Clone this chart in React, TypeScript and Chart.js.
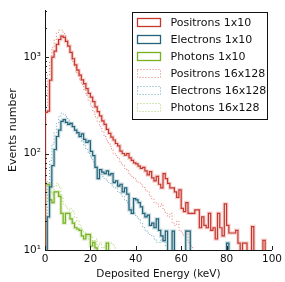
import React, { useEffect, useRef } from 'react';
import { Chart, registerables } from 'chart.js';
Chart.register(...registerables);

// Histogram binning (keV)
const X_MIN = 0;
const X_MAX = 100;
const BIN_WIDTH = 1;
const FLOOR = 1; // empty bins (below the y-axis minimum)

const Y_MIN = 10;
const Y_MAX = 3050;
const Y_MAJOR_TICKS = [10, 100, 1000];
const Y_TICK_LABELS = ['10¹', '10²', '10³'];
const X_TICKS = [0, 20, 40, 60, 80, 100];

const LABELS = [
  'Positrons 1x10',
  'Electrons 1x10',
  'Photons 1x10',
  'Positrons 16x128',
  'Electrons 16x128',
  'Photons 16x128',
];

const positrons1x10 = [
  266, 275, 575, 1000, 1150, 1350, 1520, 1650, 1600, 1450,
  1300, 1120, 960, 830, 730, 650, 580, 530, 470, 420,
  385, 345, 305, 272, 245, 218, 200, 178, 162, 148,
  138, 127, 120, 106, 100, 96, 100, 90, 85, 80,
  78, 74, 70, 72, 66, 60, 65, 56, 52, 58,
  48, 44, 62, 55, 49, 44, 44, 40, 35, 42,
  27, 25, 31, 24, 24, 24, 26, 26, 17, 22,
  18, 17, 24, 16, 17, 13, 24, 17, 14, 30,
  18, 15, 15, 15, 16, 11.8, 1, 11.8, 11.8, 1,
  1, 17.5, 1, 1, 1, 1, 12.6, 1, 1, 1,
];

const electrons1x10 = [
  1, 22, 45, 75, 110, 150, 175, 215, 225, 210,
  200, 205, 190, 175, 165, 150, 160, 140, 130, 135,
  105, 95, 72, 55, 68, 64, 62, 66, 60, 62,
  50, 52, 46, 48, 40, 44, 38, 26, 24, 34,
  33, 31, 28, 24, 22, 23, 18, 19, 17, 21,
  16, 14, 12.5, 15.7, 1, 1, 15.7, 1, 1, 1,
  1, 1, 15.7, 15.7, 1, 1, 1, 1, 1, 1,
  1, 1, 1, 1, 1, 1, 1, 1, 1, 1,
  11.8, 1, 1, 1, 1, 1, 1, 1, 1, 1,
  1, 1, 1, 1, 1, 1, 1, 1, 1, 1,
];

const photons1x10 = [
  48, 48, 33, 31, 40, 40, 36, 24, 19, 24,
  24, 21, 19, 17, 16.5, 16, 14, 13, 14.5, 14.5,
  11, 12, 10.5, 1, 1, 1, 1, 11.8, 1, 1,
  1, 1, 1, 1, 1, 1, 1, 1, 1, 1,
  1, 1, 1, 1, 1, 1, 1, 1, 1, 1,
  1, 1, 1, 1, 1, 1, 1, 1, 1, 1,
  1, 1, 1, 1, 1, 1, 1, 1, 1, 1,
  1, 1, 1, 1, 1, 1, 1, 1, 1, 1,
  1, 1, 1, 1, 1, 1, 1, 1, 1, 1,
  1, 1, 1, 1, 1, 1, 1, 1, 1, 1,
];

const positrons16x128 = [
  300, 650, 900, 1250, 1500, 1800, 1900, 1900, 1750, 1500,
  1300, 1100, 900, 780, 680, 590, 520, 460, 400, 350,
  310, 270, 240, 215, 190, 170, 150, 135, 125, 112,
  100, 95, 88, 80, 76, 70, 66, 60, 58, 55,
  52, 50, 48, 45, 42, 40, 36, 34, 31, 30,
  28, 30, 26, 24, 22, 24, 19, 18, 20, 16,
  15, 14, 16, 12, 11, 1, 1, 1, 1, 1,
  1, 1, 1, 1, 1, 1, 1, 1, 1, 1,
  1, 1, 1, 1, 1, 1, 1, 1, 1, 1,
  1, 1, 1, 1, 1, 1, 1, 1, 1, 1,
];

const electrons16x128 = [
  20, 48, 85, 125, 165, 205, 240, 262, 255, 240,
  222, 208, 192, 176, 160, 146, 132, 120, 110, 100,
  90, 82, 75, 68, 62, 58, 55, 52, 50, 47,
  45, 43, 40, 38, 36, 33, 31, 28, 26, 24,
  22, 21, 19, 17, 16, 15, 14.5, 14, 13, 12,
  12, 13, 12, 11, 1, 1, 1, 1, 1, 1,
  1, 1, 1, 1, 1, 1, 1, 1, 1, 1,
  1, 1, 1, 1, 1, 1, 1, 1, 1, 1,
  1, 1, 1, 1, 1, 1, 1, 1, 1, 1,
  1, 1, 1, 1, 1, 1, 1, 1, 1, 1,
];

const photons16x128 = [
  52, 46, 40, 38, 46, 49, 45, 35, 30, 28,
  26, 27, 25, 22, 20, 18, 16, 15, 14, 13,
  14, 12, 13, 11, 12, 10.5, 11, 1, 11.8, 11.8,
  11, 1, 1, 1, 1, 1, 1, 1, 1, 1,
  1, 1, 1, 1, 1, 1, 1, 1, 1, 1,
  1, 1, 1, 1, 1, 1, 1, 1, 1, 1,
  1, 1, 1, 1, 1, 1, 1, 1, 1, 1,
  1, 1, 1, 1, 1, 1, 1, 1, 1, 1,
  1, 1, 1, 1, 1, 1, 1, 1, 1, 1,
  1, 1, 1, 1, 1, 1, 1, 1, 1, 1,
];

const RED = 'rgb(200,55,45)';
const TEAL = 'rgb(35,100,122)';
const GREEN = 'rgb(118,178,32)';
const RED_BAND = 'rgba(210,80,70,0.25)';
const TEAL_BAND = 'rgba(50,120,140,0.25)';
const GREEN_BAND = 'rgba(130,185,50,0.25)';
const RED_DOT = 'rgba(225,110,100,0.9)';
const TEAL_DOT = 'rgba(90,155,178,0.9)';
const GREEN_DOT = 'rgba(165,205,95,0.9)';

function stepPoints(values: number[]) {
  const pts: { x: number; y: number }[] = [{ x: X_MIN, y: FLOOR }];
  values.forEach((v, i) => pts.push({ x: X_MIN + i * BIN_WIDTH, y: v }));
  pts.push({ x: X_MIN + values.length * BIN_WIDTH, y: values[values.length - 1] });
  pts.push({ x: X_MIN + values.length * BIN_WIDTH, y: FLOOR });
  return pts;
}

const FONT = 'DejaVu Sans';

const ticksPlugin = {
  id: 'inwardTicks',
  afterDraw(chart: any) {
    const { ctx, chartArea, scales } = chart;
    const ys = scales.y;
    const xs = scales.x;
    ctx.save();
    ctx.strokeStyle = '#222';
    ctx.lineWidth = 1;
    ctx.beginPath();
    for (let d = 10; d <= 1000; d *= 10) {
      for (let m = 1; m <= 9; m++) {
        const v = d * m;
        if (v > Y_MAX) continue;
        const py = Math.round(ys.getPixelForValue(v)) + 0.5;
        const len = m === 1 ? 4 : 2;
        ctx.moveTo(chartArea.left, py);
        ctx.lineTo(chartArea.left + len, py);
      }
    }
    X_TICKS.forEach((t) => {
      const px = Math.round(xs.getPixelForValue(t)) + 0.5;
      ctx.moveTo(px, chartArea.bottom);
      ctx.lineTo(px, chartArea.bottom - 4);
    });
    ctx.stroke();
    ctx.restore();
  },
};

const legendPlugin = {
  id: 'boxLegend',
  afterDraw(chart: any) {
    const { ctx } = chart;
    const items = [
      { label: LABELS[0], color: RED, dash: [] as number[] },
      { label: LABELS[1], color: TEAL, dash: [] as number[] },
      { label: LABELS[2], color: GREEN, dash: [] as number[] },
      { label: LABELS[3], color: RED_DOT, dash: [1, 2] },
      { label: LABELS[4], color: TEAL_DOT, dash: [1, 2] },
      { label: LABELS[5], color: GREEN_DOT, dash: [1, 2] },
    ];
    const bx = 132.5, by = 12.5, bw = 135, bh = 107;
    ctx.save();
    ctx.fillStyle = '#fff';
    ctx.fillRect(bx, by, bw, bh);
    ctx.strokeStyle = '#111';
    ctx.lineWidth = 1;
    ctx.strokeRect(bx, by, bw, bh);
    ctx.font = `11px "${FONT}"`;
    ctx.textBaseline = 'middle';
    ctx.textAlign = 'left';
    items.forEach((it, i) => {
      const cy = 22.5 + i * 17;
      ctx.strokeStyle = it.color;
      ctx.lineWidth = it.dash.length ? 1 : 1.3;
      ctx.setLineDash(it.dash);
      ctx.strokeRect(137.5, cy - 4, 23, 8);
      ctx.setLineDash([]);
      ctx.fillStyle = '#111';
      ctx.fillText(it.label, 170.5, cy + 0.5);
    });
    ctx.restore();
  },
};

export default function App() {
  const ref = useRef<HTMLCanvasElement | null>(null);
  useEffect(() => {
    document.body.style.margin = '0';
    const canvas = ref.current;
    if (!canvas) return;
    Chart.defaults.font.family = FONT;
    const solid = (data: number[], color: string, band: string) => [
      {
        data: stepPoints(data),
        borderColor: color,
        borderWidth: 1.2,
        stepped: 'before' as const,
        pointRadius: 0,
        fill: false,
      },
      {
        data: stepPoints(data),
        borderColor: band,
        borderWidth: 3.5,
        stepped: 'before' as const,
        pointRadius: 0,
        fill: false,
      },
    ];
    const dotted = (data: number[], color: string) => ({
      data: stepPoints(data),
      borderColor: color,
      borderWidth: 1,
      borderDash: [1, 2],
      stepped: 'before' as const,
      pointRadius: 0,
      fill: false,
    });
    const chart = new Chart(canvas, {
      type: 'line',
      data: {
        datasets: [
          ...solid(positrons1x10, RED, RED_BAND),
          ...solid(electrons1x10, TEAL, TEAL_BAND),
          ...solid(photons1x10, GREEN, GREEN_BAND),
          dotted(positrons16x128, RED_DOT),
          dotted(electrons16x128, TEAL_DOT),
          dotted(photons16x128, GREEN_DOT),
        ] as any,
      },
      options: {
        animation: false,
        responsive: false,
        devicePixelRatio: 1,
        parsing: false,
        normalized: true,
        layout: { padding: { top: 5, right: 12, left: 0, bottom: 0 } },
        plugins: { legend: { display: false }, tooltip: { enabled: false } },
        scales: {
          x: {
            type: 'linear',
            min: X_MIN,
            max: X_MAX,
            afterBuildTicks: (s: any) => {
              s.ticks = X_TICKS.map((v) => ({ value: v }));
            },
            afterFit: (s: any) => {
              s.height = 32;
            },
            grid: { display: false, drawTicks: false },
            border: { display: true, color: '#111', width: 1 },
            ticks: { color: '#111', font: { size: 10.5, family: FONT }, padding: 3, maxRotation: 0 },
            title: {
              display: true,
              text: 'Deposited Energy (keV)',
              color: '#111',
              font: { size: 10.5, family: FONT },
              padding: { top: 0, bottom: 1 },
            },
          },
          y: {
            type: 'logarithmic',
            min: Y_MIN,
            max: Y_MAX,
            afterBuildTicks: (s: any) => {
              s.ticks = Y_MAJOR_TICKS.map((v) => ({ value: v }));
            },
            afterFit: (s: any) => {
              s.width = 45;
            },
            grid: { display: false, drawTicks: false },
            border: { display: true, color: '#111', width: 1 },
            ticks: {
              color: '#111',
              font: { size: 10.5, family: FONT },
              padding: 4,
              callback: (v: any) => {
                const i = Y_MAJOR_TICKS.indexOf(Number(v));
                return i >= 0 ? Y_TICK_LABELS[i] : '';
              },
            },
            title: {
              display: true,
              text: 'Events number',
              color: '#111',
              font: { size: 11, family: FONT },
              padding: { top: 7, bottom: 0 },
            },
          },
        },
      } as any,
      plugins: [ticksPlugin, legendPlugin],
    });
    return () => chart.destroy();
  }, []);
  return (
    <div style={{ position: 'absolute', left: 0, top: 0, width: 285, height: 282, background: '#fff' }}>
      <canvas ref={ref} width={285} height={282} style={{ width: 285, height: 282, display: 'block' }} />
    </div>
  );
}
